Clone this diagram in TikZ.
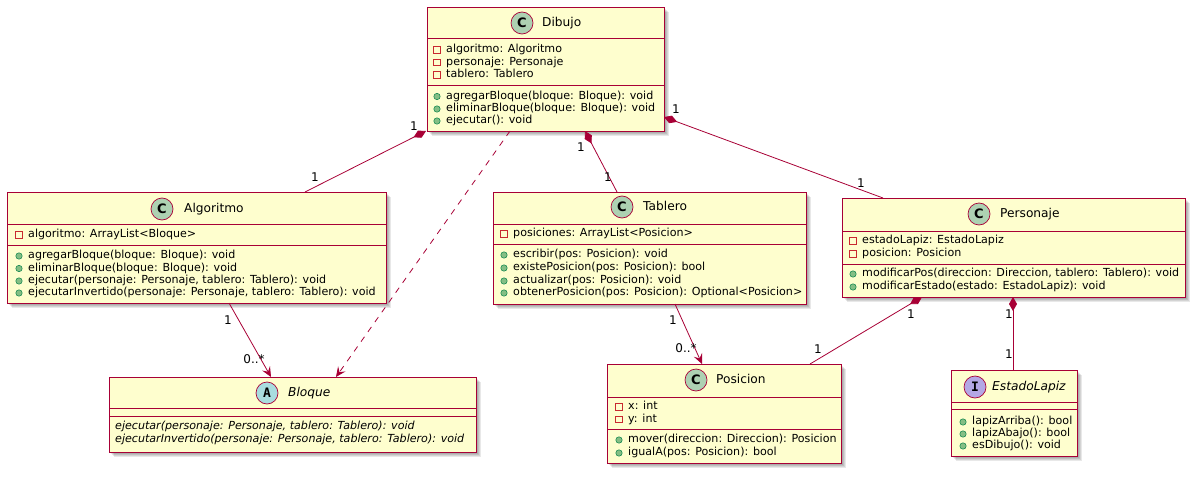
\documentclass[tikz,border=0pt]{standalone}
\usepackage{fontspec}
\setmainfont{DejaVu Sans}
\setmonofont{DejaVu Sans Mono}
\usetikzlibrary{arrows.meta,calc}
\definecolor{umlred}{HTML}{A80036}
\definecolor{umlfill}{HTML}{FEFECE}
\definecolor{cfill}{HTML}{ADD1B2}
\definecolor{afill}{HTML}{A9DCDF}
\definecolor{ifill}{HTML}{B4A7E5}
\definecolor{privred}{HTML}{C82930}
\definecolor{pubgreen}{HTML}{84BE84}
\definecolor{pubdark}{HTML}{038048}
\tikzset{
 umlbox/.style={draw=umlred, fill=umlfill, line width=0.9pt, inner sep=0pt, outer sep=0pt, anchor=north west},
 divline/.style={draw=umlred, line width=0.9pt},
 mem/.style={anchor=west, inner sep=0pt, font=\fontsize{11.1}{13}\selectfont, text height=8pt, text depth=2.5pt},
 ttl/.style={anchor=west, inner sep=0pt, font=\fontsize{12.2}{14}\selectfont, text height=9pt, text depth=2.5pt},
 spot/.style={circle, draw=umlred, line width=0.7pt, minimum size=22pt, inner sep=0pt, font=\bfseries\fontsize{13}{13}\selectfont},
 prvicon/.style={draw=privred, line width=0.9pt},
 pubicon/.style={fill=pubgreen, draw=pubdark, line width=0.5pt},
 conn/.style={draw=umlred, line width=0.8pt},
 comp/.style={conn, {Diamond[length=14pt,width=8pt]}-},
 assoc/.style={conn, -{Stealth[length=10pt,width=9pt,inset=4pt]}},
 dep/.style={conn, dash pattern=on 6pt off 6pt, -{Stealth[length=10pt,width=9pt,inset=4pt]}},
 mult/.style={inner sep=0pt, font=\fontsize{12}{14}\selectfont}
}
\newcommand\umlshadow[4]{%
  \foreach \s in {2,3,4,5}{\fill[black,opacity=0.09] (#1+\s,#2+\s) rectangle (#3+\s,#4+\s);}}
\newcommand\mprv[4]{% name, icon x, y, text
  \draw[prvicon] (#2-3.1,#3-3.1) rectangle (#2+3.1,#3+3.1);
  \node[mem] (#1) at (#2+9,#3) {#4};}
\newcommand\mpub[4]{%
  \fill[pubicon] (#2,#3) circle (3.2pt);
  \node[mem] (#1) at (#2+9,#3) {#4};}
\begin{document}
\begin{tikzpicture}[x=1pt,y=-1pt]
\useasboundingbox (0,0) rectangle (1198,476);
\fill[white] (0,0) rectangle (1198,476);

% shadows
\umlshadow{427}{7}{664}{131}
\umlshadow{7}{192}{386}{303}
\umlshadow{109}{377}{476}{452}
\umlshadow{493}{192}{806}{304}
\umlshadow{842}{198}{1185}{297}
\umlshadow{607}{364}{841}{463}
\umlshadow{951}{370}{1077}{456}

% ---------- Dibujo
\node[umlbox, minimum width=237pt, minimum height=124pt] (dib) at (427,7) {};
\draw[divline] (427,38) -- (664,38);
\draw[divline] (427,85) -- (664,85);
\node[spot, fill=cfill] (dibc) at (522,23) {C};
\node[ttl] (dibt) at (542,23) {Dibujo};
\mprv{d1}{437}{50}{algoritmo: Algoritmo}
\mprv{d2}{437}{62.5}{personaje: Personaje}
\mprv{d3}{437}{75}{tablero: Tablero}
\mpub{d4}{437}{96.5}{agregarBloque(bloque: Bloque): void}
\mpub{d5}{437}{109}{eliminarBloque(bloque: Bloque): void}
\mpub{d6}{437}{121}{ejecutar(): void}

% ---------- Algoritmo
\node[umlbox, minimum width=379pt, minimum height=111pt] (alg) at (7,192) {};
\draw[divline] (7,224) -- (386,224);
\draw[divline] (7,245) -- (386,245);
\node[spot, fill=cfill] (algc) at (162,209) {C};
\node[ttl] (algt) at (184,209) {Algoritmo};
\mprv{a1}{19}{235}{algoritmo: ArrayList<Bloque>}
\mpub{a2}{19}{256}{agregarBloque(bloque: Bloque): void}
\mpub{a3}{19}{268.5}{eliminarBloque(bloque: Bloque): void}
\mpub{a4}{19}{281}{ejecutar(personaje: Personaje, tablero: Tablero): void}
\mpub{a5}{19}{293}{ejecutarInvertido(personaje: Personaje, tablero: Tablero): void}

% ---------- Bloque
\node[umlbox, minimum width=367pt, minimum height=75pt] (blo) at (109,377) {};
\draw[divline] (109,408) -- (476,408);
\draw[divline] (109,416) -- (476,416);
\node[spot, fill=afill, font=\ttfamily\bfseries\fontsize{13}{13}\selectfont] (bloc) at (267,393) {A};
\node[ttl, font=\itshape\fontsize{12.2}{14}\selectfont] (blot) at (288,393) {Bloque};
\node[mem, font=\itshape\fontsize{11.1}{13}\selectfont] (b1) at (115,427) {ejecutar(personaje: Personaje, tablero: Tablero): void};
\node[mem, font=\itshape\fontsize{11.1}{13}\selectfont] (b2) at (115,439.5) {ejecutarInvertido(personaje: Personaje, tablero: Tablero): void};

% ---------- Tablero
\node[umlbox, minimum width=313pt, minimum height=112pt] (tab) at (493,192) {};
\draw[divline] (493,224) -- (806,224);
\draw[divline] (493,244) -- (806,244);
\node[spot, fill=cfill] (tabc) at (622,207) {C};
\node[ttl] (tabt) at (643,207) {Tablero};
\mprv{t1}{504}{234}{posiciones: ArrayList<Posicion>}
\mpub{t2}{504}{255}{escribir(pos: Posicion): void}
\mpub{t3}{504}{268}{existePosicion(pos: Posicion): bool}
\mpub{t4}{504}{281}{actualizar(pos: Posicion): void}
\mpub{t5}{504}{293}{obtenerPosicion(pos: Posicion): Optional<Posicion>}

% ---------- Personaje
\node[umlbox, minimum width=343pt, minimum height=99pt] (per) at (842,198) {};
\draw[divline] (842,231) -- (1185,231);
\draw[divline] (842,264) -- (1185,264);
\node[spot, fill=cfill] (perc) at (979,214) {C};
\node[ttl] (pert) at (1000,214) {Personaje};
\mprv{p1}{853}{241}{estadoLapiz: EstadoLapiz}
\mprv{p2}{853}{254}{posicion: Posicion}
\mpub{p3}{853}{274}{modificarPos(direccion: Direccion, tablero: Tablero): void}
\mpub{p4}{853}{287}{modificarEstado(estado: EstadoLapiz): void}

% ---------- Posicion
\node[umlbox, minimum width=234pt, minimum height=99pt] (pos) at (607,364) {};
\draw[divline] (607,397) -- (841,397);
\draw[divline] (607,429) -- (841,429);
\node[spot, fill=cfill] (posc) at (696,380) {C};
\node[ttl] (post) at (716,380) {Posicion};
\mprv{q1}{619}{407}{x: int}
\mprv{q2}{619}{419.5}{y: int}
\mpub{q3}{619}{440}{mover(direccion: Direccion): Posicion}
\mpub{q4}{619}{453}{igualA(pos: Posicion): bool}

% ---------- EstadoLapiz
\node[umlbox, minimum width=126pt, minimum height=86pt] (est) at (951,370) {};
\draw[divline] (951,402) -- (1077,402);
\draw[divline] (951,409) -- (1077,409);
\node[spot, fill=ifill, font=\ttfamily\bfseries\fontsize{13}{13}\selectfont] (estc) at (975,387) {I};
\node[ttl, font=\itshape\fontsize{12.2}{14}\selectfont] (estt) at (992,387) {EstadoLapiz};
\mpub{e1}{963}{422}{lapizArriba(): bool}
\mpub{e2}{963}{434}{lapizAbajo(): bool}
\mpub{e3}{963}{446}{esDibujo(): void}

% ---------- connectors
\draw[comp] ([xshift=-1pt]dib.south west) -- ([xshift=298pt]alg.north west);
\node[mult] (m1) at (414,126) {1};
\node[mult] (m2) at (315,177) {1};

\draw[comp] ([xshift=158pt]dib.south west) -- ([xshift=124pt]tab.north west);
\node[mult] (m3) at (581,147) {1};
\node[mult] (m4) at (608,177) {1};

\draw[comp] ([yshift=-110pt]dib.north east) -- ([xshift=41pt]per.north west);
\node[mult] (m5) at (676,109) {1};
\node[mult] (m6) at (861,183) {1};

\draw[dep] ([xshift=83pt]dib.south west) -- ([xshift=227pt]blo.north west);

\draw[assoc] ([xshift=222pt]alg.south west) -- ([xshift=162pt]blo.north west);
\node[mult] (m7) at (228,320) {1};
\node[mult] (m8) at (254,359) {0..*};

\draw[assoc] ([xshift=182pt]tab.south west) -- ([xshift=95pt]pos.north west);
\node[mult] (m9) at (673,320) {1};
\node[mult] (m10) at (686,348) {0..*};

\draw[comp] ([xshift=80pt]per.south west) -- ([xshift=203pt]pos.north west);
\node[mult] (m11) at (911,314) {1};
\node[mult] (m12) at (818,349) {1};

\draw[comp] ([xshift=171pt]per.south west) -- ([xshift=62pt]est.north west);
\node[mult] (m13) at (1009,314) {1};
\node[mult] (m14) at (1009,354) {1};
\end{tikzpicture}
\end{document}
